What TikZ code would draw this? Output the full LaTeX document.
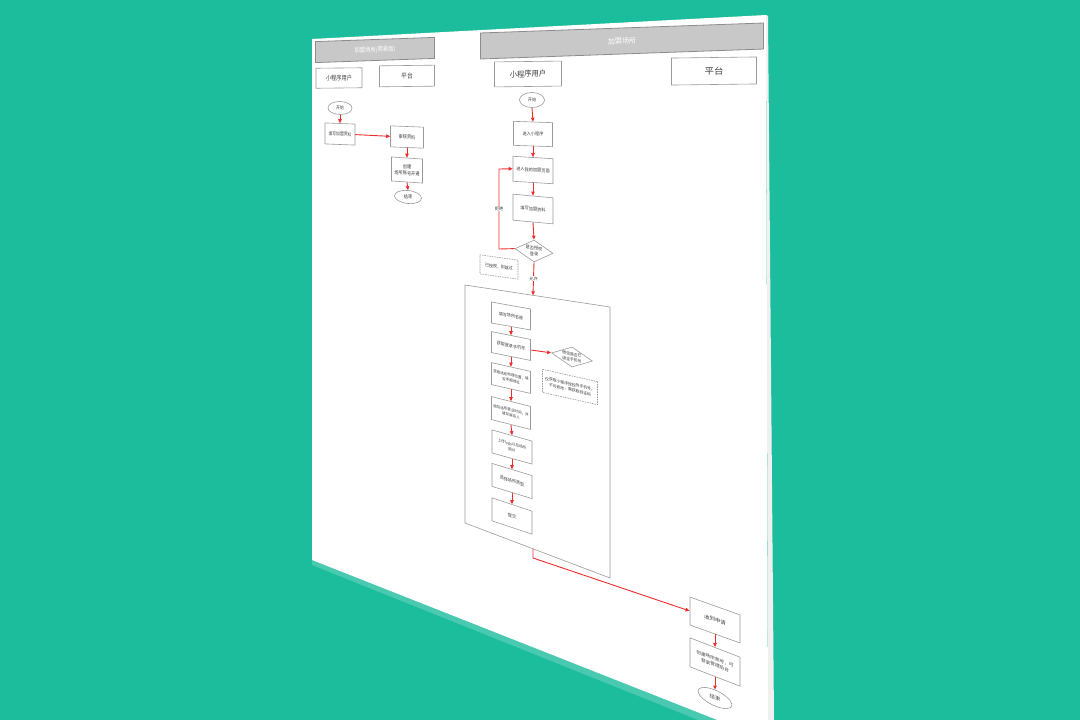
\documentclass[tikz,border=0pt]{standalone}
\usepackage{fontspec}
\newfontfamily\cjk{Noto Sans CJK SC}
\usetikzlibrary{shapes.geometric,arrows.meta,calc}
\definecolor{bgteal}{RGB}{28,189,156}
\definecolor{flowred}{RGB}{240,45,45}
\definecolor{boxline}{RGB}{155,155,155}
\definecolor{barline}{RGB}{140,140,140}
\definecolor{barfill}{RGB}{200,200,200}
\definecolor{txt}{RGB}{60,60,60}
% perspective-placed node: [style]{name}{x px}{y px}{width px}{height px}{text}
\newcommand\pnd[7][]{%
  \pgfmathsetmacro\pk{(522+0.449*(#3-313))/522}%
  \pgfmathsetmacro\pkx{0.8*\pk*\pk}%
  \pgfmathsetmacro\psl{(#4-90)/(#3+766)}%
  \pgfmathsetmacro\pb{-\psl*\pkx}%
  \pgfmathsetmacro\pw{#5/\pkx}%
  \pgfmathsetmacro\ph{#6/\pk}%
  \begin{scope}[shift={(#3,#4)},cm={\pkx,\pb,0,\pk,(0,0)}]
    \node[transform shape,minimum width=\pw pt,minimum height=\ph pt,#1] (#2) at (0,0) {#7};
  \end{scope}}
\tikzset{
  box/.style={rectangle,draw=boxline,fill=white,line width=0.6pt,text=txt,align=center,inner sep=0.5pt},
  bar/.style={rectangle,draw=barline,fill=barfill,line width=0.8pt,text=white,align=center,inner sep=0.5pt},
  term/.style={ellipse,draw=boxline,fill=white,line width=0.6pt,text=txt,inner sep=0.3pt},
  dec/.style={diamond,aspect=1.8,draw=boxline,fill=white,line width=0.6pt,text=txt,align=center,inner sep=0pt},
  note/.style={rectangle,draw=boxline,dash pattern=on 1.5pt off 1pt,fill=white,line width=0.6pt,text=txt,align=center,inner sep=0.5pt},
  frame/.style={draw=boxline,line width=0.6pt},
  flow/.style={draw=flowred,line width=0.9pt,-{Triangle[length=4pt,width=3.5pt]}},
  lbl/.style={fill=white,text=txt,inner sep=0.5pt,font=\cjk\fontsize{4.2}{5}\selectfont},
  fbarl/.style={font=\cjk\fontsize{6}{7}\selectfont},
  fbarr/.style={font=\cjk\fontsize{5.5}{6.5}\selectfont},
  fhl/.style={font=\cjk\fontsize{6.2}{7}\selectfont},
  fhr/.style={font=\cjk\fontsize{6.5}{7.5}\selectfont},
  fsl/.style={font=\cjk\fontsize{4.5}{6.2}\selectfont},
  fsr/.style={font=\cjk\fontsize{3.7}{5.2}\selectfont},
  fss/.style={font=\cjk\fontsize{3.2}{4.6}\selectfont},
}
\begin{document}
\begin{tikzpicture}[x=1pt,y=-1pt]
\useasboundingbox (0,0) rectangle (1080,720);
\clip (0,0) rectangle (1080,720);
\fill[bgteal] (0,0) rectangle (1080,720);
% sheet with shadow
\fill[bgteal!80!white] (312,560) -- (768,740) -- (768,748) -- (312,565) -- cycle;
\fill[gray!12] (766,15) -- (768,16) -- (774,720) -- (768,720) -- cycle;
\fill[white] (312,39) -- (766,15) -- (768,740) -- (312,560) -- cycle;

% ---------- left panel (simplified) ----------
\pnd[bar,fbarl]{lt}{375}{50}{119}{21}{加盟场所(简易版)}
\pnd[box,fhl]{lu}{339}{78}{46}{20}{小程序用户}
\pnd[box,fhl]{lp}{407}{76}{55}{21}{平台}
\pnd[term,fsl]{ls}{340}{108}{24}{13}{开始}
\pnd[box,fsl]{l1}{340}{134}{30}{21}{填写加盟资料}
\pnd[box,fsl]{l2}{407}{137}{33}{21}{审核资料}
\pnd[box,fsl]{l3}{407}{170}{31}{24}{创建\\场所账号开通}
\pnd[term,fsl]{le}{408}{197}{27}{13}{结束}
\draw[flow] (ls.south) -- (l1.north);
\draw[flow] (l1.east) -- (l2.west);
\draw[flow] (l2.south) -- (l3.north);
\draw[flow] (l3.south) -- (le.north);

% ---------- right panel ----------
\pnd[bar,fbarr]{rt}{622}{41}{283}{26}{加盟场所}
\pnd[box,fhr]{ru}{528}{74}{67}{25}{小程序用户}
\pnd[box,fhr]{rp}{714}{71}{85}{27}{平台}
\pnd[term,fsr]{rs}{532}{100}{25}{15}{开始}
\pnd[box,fsr]{r1}{533}{134}{39}{24}{进入小程序}
\pnd[box,fsr]{r2}{533}{170}{40}{25}{进入我的加盟页面}
\pnd[box,fsr]{r3}{533}{209}{40}{26}{填写加盟资料}
\pnd[dec,fsr]{rd}{534}{251}{38}{22}{是否授权\\登录}
\pnd[note,fsr]{rn}{499}{267}{38}{19}{已授权，则跳过}

% group frame
\coordinate (fTL) at (465,285);
\coordinate (fTR) at (610,307);
\coordinate (fBR) at (610,578);
\coordinate (fBL) at (465,523);
\draw[frame] (fTL) -- (fTR) -- (fBR) -- (fBL) -- cycle;
\coordinate (ftop) at ($(fTL)!0.469!(fTR)$);
\coordinate (fbot) at ($(fBL)!0.469!(fBR)$);

\pnd[box,fsr]{g1}{511}{316}{39}{21}{填写场所名称}
\pnd[box,fsr]{g2}{511}{346}{39}{21}{获取登录手机号}
\pnd[dec,fss]{gd}{572}{357}{41}{20}{微信是否已\\绑定手机号}
\pnd[note,fss]{gn}{570}{387}{55}{23}{仅获取小程序授权的手机号，\\不可修改，需获取验证码}
\pnd[box,fss]{g3}{511}{378}{39}{22}{获取场所地理位置，填\\写详细地址}
\pnd[box,fss]{g4}{511}{413}{39}{23}{填写场所营业时间，并\\填写联系人}
\pnd[box,fss]{g5}{512}{447}{40}{23}{上传logo以及场所\\照片}
\pnd[box,fsr]{g6}{512}{481}{40}{23}{选择场所类型}
\pnd[box,fsr]{g7}{512}{516}{40}{23}{提交}

% platform side
\pnd[box,fsr]{a1}{715}{620}{50}{28}{收到申请}
\pnd[box,fss]{a2}{715}{662}{50}{29}{创建场所账号，可\\登录管理后台}
\pnd[term,fsr]{ae}{715}{698}{34}{16}{结束}

% connectors
\coordinate (lpa) at (499,249);
\coordinate (lpb) at (499,169);
\coordinate (bend1) at (533,558);
\draw[flow] (rs.south) -- (r1.north);
\draw[flow] (r1.south) -- (r2.north);
\draw[flow] (r2.south) -- (r3.north);
\draw[flow] (r3.south) -- (rd.north);
\draw[flow] (rd.west) -- (lpa) -- node[lbl]{拒绝} (lpb) -- (r2.west);
\draw[flow] (rd.south) -- node[lbl]{允许} (ftop);
\draw[flow] (g1.south) -- (g2.north);
\draw[flow] (g2.east) -- (gd.west);
\draw[flow] (g2.south) -- (g3.north);
\draw[flow] (g3.south) -- (g4.north);
\draw[flow] (g4.south) -- (g5.north);
\draw[flow] (g5.south) -- (g6.north);
\draw[flow] (g6.south) -- (g7.north);
\draw[flow] (fbot) -- (bend1) -- (a1.west);
\draw[flow] (a1.south) -- (a2.north);
\draw[flow] (a2.south) -- (ae.north);
\end{tikzpicture}
\end{document}
